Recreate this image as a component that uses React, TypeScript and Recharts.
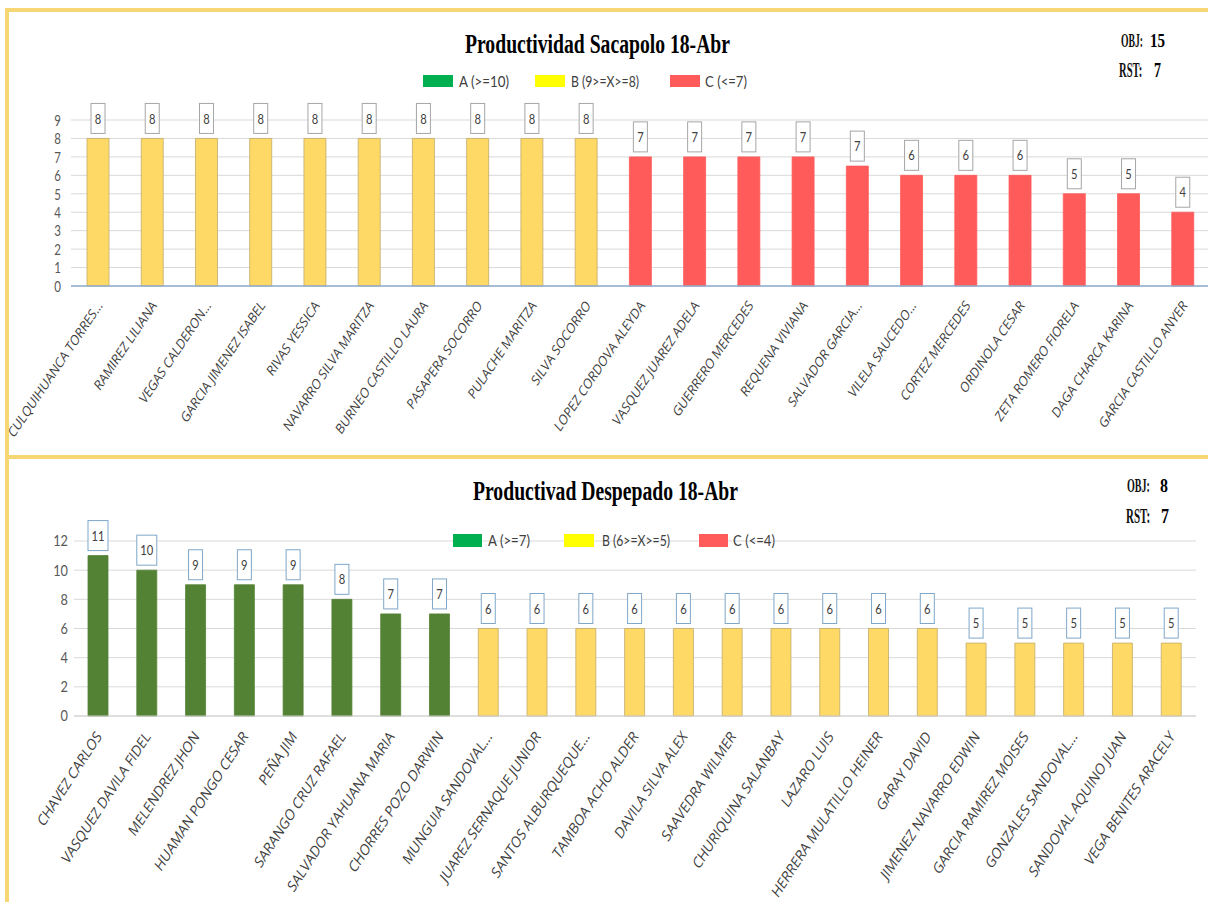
import React from 'react';
import { BarChart, Bar, XAxis, YAxis, CartesianGrid, Cell, LabelList } from 'recharts';

// ---------- Data: Productividad Sacapolo ----------
const sacapoloNames = [
  'CULQUIHUANCA TORRES...', 'RAMIREZ LILIANA', 'VEGAS CALDERON...', 'GARCIA JIMENEZ ISABEL',
  'RIVAS YESSICA', 'NAVARRO SILVA MARITZA', 'BURNEO CASTILLO LAURA', 'PASAPERA SOCORRO',
  'PULACHE MARITZA', 'SILVA SOCORRO', 'LOPEZ CORDOVA ALEYDA', 'VASQUEZ JUAREZ ADELA',
  'GUERRERO MERCEDES', 'REQUENA VIVIANA', 'SALVADOR GARCIA...', 'VILELA SAUCEDO...',
  'CORTEZ MERCEDES', 'ORDINOLA CESAR', 'ZETA ROMERO FIORELA', 'DAGA CHARCA KARINA',
  'GARCIA CASTILLO ANYER',
];
const sacapoloValues = [8, 8, 8, 8, 8, 8, 8, 8, 8, 8, 7, 7, 7, 7, 6.5, 6, 6, 6, 5, 5, 4];
const sacapoloGrades = ['B', 'B', 'B', 'B', 'B', 'B', 'B', 'B', 'B', 'B', 'C', 'C', 'C', 'C', 'C', 'C', 'C', 'C', 'C', 'C', 'C'];
const sacapoloTicks = [0, 1, 2, 3, 4, 5, 6, 7, 8, 9];
const sacapoloLegend = ['A (>=10)', 'B (9>=X>=8)', 'C (<=7)'];
const sacapoloSummary = [15, 7]; // OBJ, RST

// ---------- Data: Productivad Despepado ----------
const despepadoNames = [
  'CHAVEZ CARLOS', 'VASQUEZ DAVILA FIDEL', 'MELENDREZ JHON', 'HUAMAN PONGO CESAR', 'PEÑA JIM',
  'SARANGO CRUZ RAFAEL', 'SALVADOR YAHUANA MARIA', 'CHORRES POZO DARWIN', 'MUNGUIA SANDOVAL...',
  'JUAREZ SERNAQUE JUNIOR', 'SANTOS ALBURQUEQUE...', 'TAMBOA ACHO ALDER', 'DAVILA SILVA ALEX',
  'SAAVEDRA WILMER', 'CHURIQUINA SALANBAY', 'LAZARO LUIS', 'HERRERA MULATILLO HEINER',
  'GARAY DAVID', 'JIMENEZ NAVARRO EDWIN', 'GARCIA RAMIREZ MOISES', 'GONZALES SANDOVAL...',
  'SANDOVAL AQUINO JUAN', 'VEGA BENITES ARACELY',
];
const despepadoValues = [11, 10, 9, 9, 9, 8, 7, 7, 6, 6, 6, 6, 6, 6, 6, 6, 6, 6, 5, 5, 5, 5, 5];
const despepadoGrades = ['A', 'A', 'A', 'A', 'A', 'A', 'A', 'A', 'B', 'B', 'B', 'B', 'B', 'B', 'B', 'B', 'B', 'B', 'B', 'B', 'B', 'B', 'B'];
const despepadoTicks = [0, 2, 4, 6, 8, 10, 12];
const despepadoLegend = ['A (>=7)', 'B (6>=X>=5)', 'C (<=4)'];
const despepadoSummary = [8, 7]; // OBJ, RST

const sacapoloData = sacapoloNames.map((name, i) => ({ name, value: sacapoloValues[i], grade: sacapoloGrades[i] }));
const despepadoData = despepadoNames.map((name, i) => ({ name, value: despepadoValues[i], grade: despepadoGrades[i] }));

// ---------- Styles ----------
const barFill: Record<string, string> = { A: '#548235', B: '#FFD966', C: '#FF5B5B' };
const barStroke: Record<string, string> = { A: '#548235', B: '#c2ab6a', C: '#FF5B5B' };
const legendFill = ['#00B050', '#FFFF00', '#FF5B5B'];
const SANS = 'Lato, "Open Sans", sans-serif';
const LABEL_FONT = '"Open Sans", Lato, sans-serif';
const SERIF = '"Liberation Serif", "DejaVu Serif", serif';
const BORDER = '#F6D774';

const makeXTick = (fontSize: number, angle: number, dx: number, dy: number) => (props: any) => {
  const { x, y, payload } = props;
  return (
    <g transform={`translate(${x + dx},${y + dy})`}>
      <text x={0} y={0} textAnchor="end" transform={`rotate(${angle}) skewX(-12)`} fontSize={fontSize}
        fontFamily={LABEL_FONT} fill="#404040">{payload.value}</text>
    </g>
  );
};

const makeYTick = (fontSize: number, sx: number, offset: number) => (props: any) => {
  const { x, y, payload } = props;
  return (
    <text transform={`translate(${x - offset},${y}) scale(${sx},1)`} x={0} y={0} dy="0.36em"
      textAnchor="end" fontSize={fontSize} fontFamily={SANS} fill="#595959">{payload.value}</text>
  );
};

const makeBoxLabel = (stroke: string) => (props: any) => {
  const { x, y, width, value } = props;
  const text = String(Math.round(Number(value)));
  const w = text.length > 1 ? 20 : 14;
  const h = 30;
  const cx = Number(x) + Number(width) / 2;
  const top = Number(y) - 5 - h;
  return (
    <g>
      <rect x={cx - w / 2} y={top} width={w} height={h} fill="#ffffff" stroke={stroke} strokeWidth={1} />
      <text transform={`translate(${cx},${top + h / 2}) scale(0.8,1)`} x={0} y={0} dy="0.36em"
        textAnchor="middle" fontSize={14} fontFamily={SANS} fill="#404040">{text}</text>
    </g>
  );
};

type LegendPos = { sx: number; sy: number; sw: number; sh: number; tx: number; tw: number; by: number };

const legendTop: LegendPos[] = [
  { sx: 423, sy: 75, sw: 30, sh: 12, tx: 459, tw: 50, by: 87 },
  { sx: 535, sy: 75, sw: 30, sh: 12, tx: 571, tw: 68, by: 87 },
  { sx: 670, sy: 75, sw: 30, sh: 12, tx: 705, tw: 42, by: 87 },
];
const legendBottom: LegendPos[] = [
  { sx: 453, sy: 534, sw: 29, sh: 13, tx: 488, tw: 42, by: 546 },
  { sx: 564, sy: 534, sw: 30, sh: 13, tx: 602, tw: 68, by: 546 },
  { sx: 699, sy: 534, sw: 29, sh: 13, tx: 733, tw: 42, by: 546 },
];

const SquishText = ({ x, y, sx, size, children, fill }: any) => (
  <text transform={`translate(${x},${y}) scale(${sx},1)`} x={0} y={0} fontFamily={SERIF}
    fontWeight="bold" fontSize={size} fill={fill}>{children}</text>
);

export default function App() {
  return (
    <div style={{ position: 'absolute', left: 0, top: 0, width: 1208, height: 902, overflow: 'hidden', background: '#ffffff' }}>
      {/* panel borders */}
      <div style={{ position: 'absolute', left: 5, top: 8, width: 1230, height: 451, boxSizing: 'border-box', border: `4px solid ${BORDER}` }} />
      <div style={{ position: 'absolute', left: 5, top: 455, width: 1230, height: 470, boxSizing: 'border-box', border: `4px solid ${BORDER}` }} />

      {/* Sacapolo chart */}
      <div style={{ position: 'absolute', left: 0, top: 0 }}>
        <BarChart width={1215} height={455} data={sacapoloData} margin={{ top: 120, right: 5, bottom: 0, left: 0 }} barSize={22}>
          <CartesianGrid vertical={false} stroke="#d9d9d9" />
          <XAxis dataKey="name" interval={0} height={169} tickLine={false} tickSize={0} tickMargin={0}
            axisLine={{ stroke: '#8eaed0', strokeWidth: 1.5 }} tick={makeXTick(12.8, -56, 5, 20)} />
          <YAxis width={71} domain={[0, 9]} ticks={sacapoloTicks} interval={0} axisLine={false} tickLine={false}
            tickSize={0} tickMargin={0} tick={makeYTick(16, 0.72, 10)} />
          <Bar dataKey="value" isAnimationActive={false}>
            {sacapoloData.map((d, i) => (
              <Cell key={i} fill={barFill[d.grade]} stroke={barStroke[d.grade]} strokeWidth={0.8} />
            ))}
            <LabelList dataKey="value" content={makeBoxLabel('#a6a6a6')} />
          </Bar>
        </BarChart>
      </div>

      {/* Despepado chart */}
      <div style={{ position: 'absolute', left: 0, top: 455 }}>
        <BarChart width={1200} height={447} data={despepadoData} margin={{ top: 86, right: 4, bottom: 0, left: 0 }} barSize={20}>
          <CartesianGrid vertical={false} stroke="#d9d9d9" />
          <XAxis dataKey="name" interval={0} height={186} tickLine={false} tickSize={0} tickMargin={0}
            axisLine={{ stroke: '#d0d0d0' }} tick={makeXTick(14, -57, 4, 21)} />
          <YAxis width={74} domain={[0, 12]} ticks={despepadoTicks} interval={0} axisLine={false} tickLine={false}
            tickSize={0} tickMargin={0} tick={makeYTick(15, 0.85, 6)} />
          <Bar dataKey="value" isAnimationActive={false}>
            {despepadoData.map((d, i) => (
              <Cell key={i} fill={barFill[d.grade]} stroke={barStroke[d.grade]} strokeWidth={0.8} />
            ))}
            <LabelList dataKey="value" content={makeBoxLabel('#7fa7c9')} />
          </Bar>
        </BarChart>
      </div>

      {/* titles, legends, OBJ/RST */}
      <svg width={1208} height={902} style={{ position: 'absolute', left: 0, top: 0, pointerEvents: 'none' }}>
        <text x={465} y={53} textLength={265} lengthAdjust="spacingAndGlyphs" fontFamily={SERIF}
          fontWeight="bold" fontSize={28} fill="#000">Productividad Sacapolo 18-Abr</text>
        <text x={473} y={500} textLength={265} lengthAdjust="spacingAndGlyphs" fontFamily={SERIF}
          fontWeight="bold" fontSize={27} fill="#000">Productivad Despepado 18-Abr</text>

        {sacapoloLegend.map((label, i) => {
          const p = legendTop[i];
          return (
            <g key={'lt' + i}>
              <rect x={p.sx} y={p.sy} width={p.sw} height={p.sh} fill={legendFill[i]} />
              <text x={p.tx} y={p.by} textLength={p.tw} lengthAdjust="spacingAndGlyphs" fontSize={15}
                fontFamily={SANS} fill="#404040">{label}</text>
            </g>
          );
        })}
        {despepadoLegend.map((label, i) => {
          const p = legendBottom[i];
          return (
            <g key={'lb' + i}>
              <rect x={p.sx} y={p.sy} width={p.sw} height={p.sh} fill={legendFill[i]} />
              <text x={p.tx} y={p.by} textLength={p.tw} lengthAdjust="spacingAndGlyphs" fontSize={15}
                fontFamily={SANS} fill="#404040">{label}</text>
            </g>
          );
        })}

        <SquishText x={1121} y={47} sx={0.51} size={19} fill="#111">OBJ:</SquishText>
        <SquishText x={1150} y={47} sx={0.79} size={19} fill="#000">{sacapoloSummary[0]}</SquishText>
        <SquishText x={1119} y={77} sx={0.53} size={20} fill="#111">RST:</SquishText>
        <SquishText x={1154} y={77} sx={0.7} size={20} fill="#000">{sacapoloSummary[1]}</SquishText>

        <SquishText x={1127} y={492} sx={0.53} size={19} fill="#111">OBJ:</SquishText>
        <SquishText x={1160} y={492} sx={0.84} size={19} fill="#000">{despepadoSummary[0]}</SquishText>
        <SquishText x={1126} y={523} sx={0.55} size={20} fill="#111">RST:</SquishText>
        <SquishText x={1161} y={523} sx={0.8} size={20} fill="#000">{despepadoSummary[1]}</SquishText>
      </svg>
    </div>
  );
}
